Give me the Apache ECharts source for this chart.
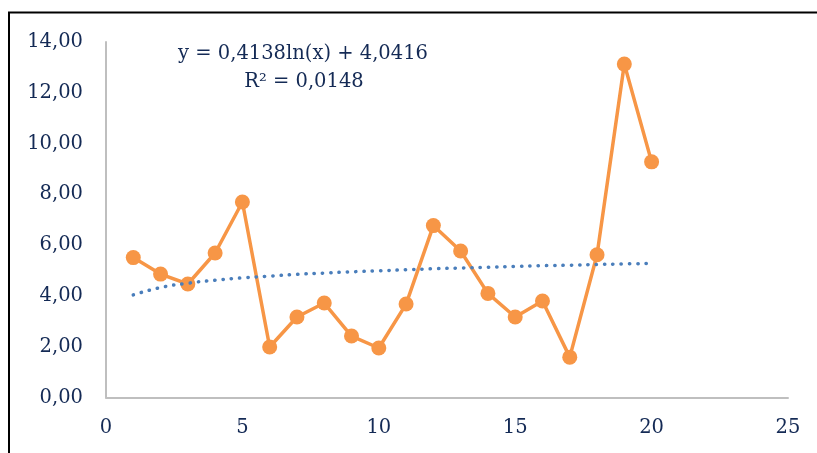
<!DOCTYPE html>
<html><head><meta charset="utf-8">
<script src="https://cdn.jsdelivr.net/npm/echarts@6/dist/echarts.min.js"></script>
<style>html,body{margin:0;padding:0;background:#fff}#c{width:817px;height:453px}</style>
</head><body><div id="c"></div>
<script>
var xValues = [1,2,3,4,5,6,7,8,9,10,11,12,13,14,15,16,17,18,19,20];
var seriesValues = [5.51,4.86,4.47,5.69,7.70,1.99,3.17,3.72,2.42,1.95,3.68,6.77,5.77,4.10,3.17,3.80,1.59,5.62,13.13,9.28];
var trendValues = [4.04,4.33,4.50,4.62,4.71,4.78,4.85,4.90,4.95,4.99,5.03,5.07,5.10,5.13,5.16,5.19,5.21,5.24,5.26,5.28];
var equationLines = ['y = 0,4138ln(x) + 4,0416', 'R² = 0,0148'];

var navy = '#142A55';
var font = 'DejaVu Serif';
function fmt(v){ return v.toFixed(2).replace('.', ','); }
var chart = echarts.init(document.getElementById('c'), null, {renderer:'canvas'});
chart.setOption({
  animation:false,
  grid:{left:106,right:29,top:42,bottom:55.5},
  xAxis:{type:'value',min:0,max:25,interval:5,
    axisLine:{show:true,lineStyle:{color:'#BFBFBF',width:2}},
    axisTick:{show:false},splitLine:{show:false},
    axisLabel:{color:navy,fontFamily:font,fontSize:19.5,margin:20}},
  yAxis:{type:'value',min:0,max:14,interval:2,
    axisLine:{show:true,lineStyle:{color:'#BFBFBF',width:2}},
    axisTick:{show:false},splitLine:{show:false},
    axisLabel:{color:navy,fontFamily:font,fontSize:19.5,margin:23,formatter:fmt}},
  graphic:[
    {type:'rect',shape:{x:9,y:12.5,width:900,height:600},style:{fill:'none',stroke:'#000',lineWidth:2},silent:true},
    {type:'text',x:303,y:54,style:{text:equationLines[0],fill:navy,font:'19.5px "DejaVu Serif"',textAlign:'center',textVerticalAlign:'middle'}},
    {type:'text',x:304,y:82,style:{text:equationLines[1],fill:navy,font:'19.5px "DejaVu Serif"',textAlign:'center',textVerticalAlign:'middle'}}
  ],
  series:[
    {type:'line',data:xValues.map(function(x,i){return [x,trendValues[i]];}),
      smooth:true,symbol:'none',z:3,
      lineStyle:{color:'#4A7EBB',width:3.5,type:[0.3,8],cap:'round'}},
    {type:'line',data:xValues.map(function(x,i){return [x,seriesValues[i]];}),
      symbol:'circle',symbolSize:15,z:2,
      itemStyle:{color:'#F79646'},
      lineStyle:{color:'#F79646',width:3.5}}
  ]
});
</script></body></html>
